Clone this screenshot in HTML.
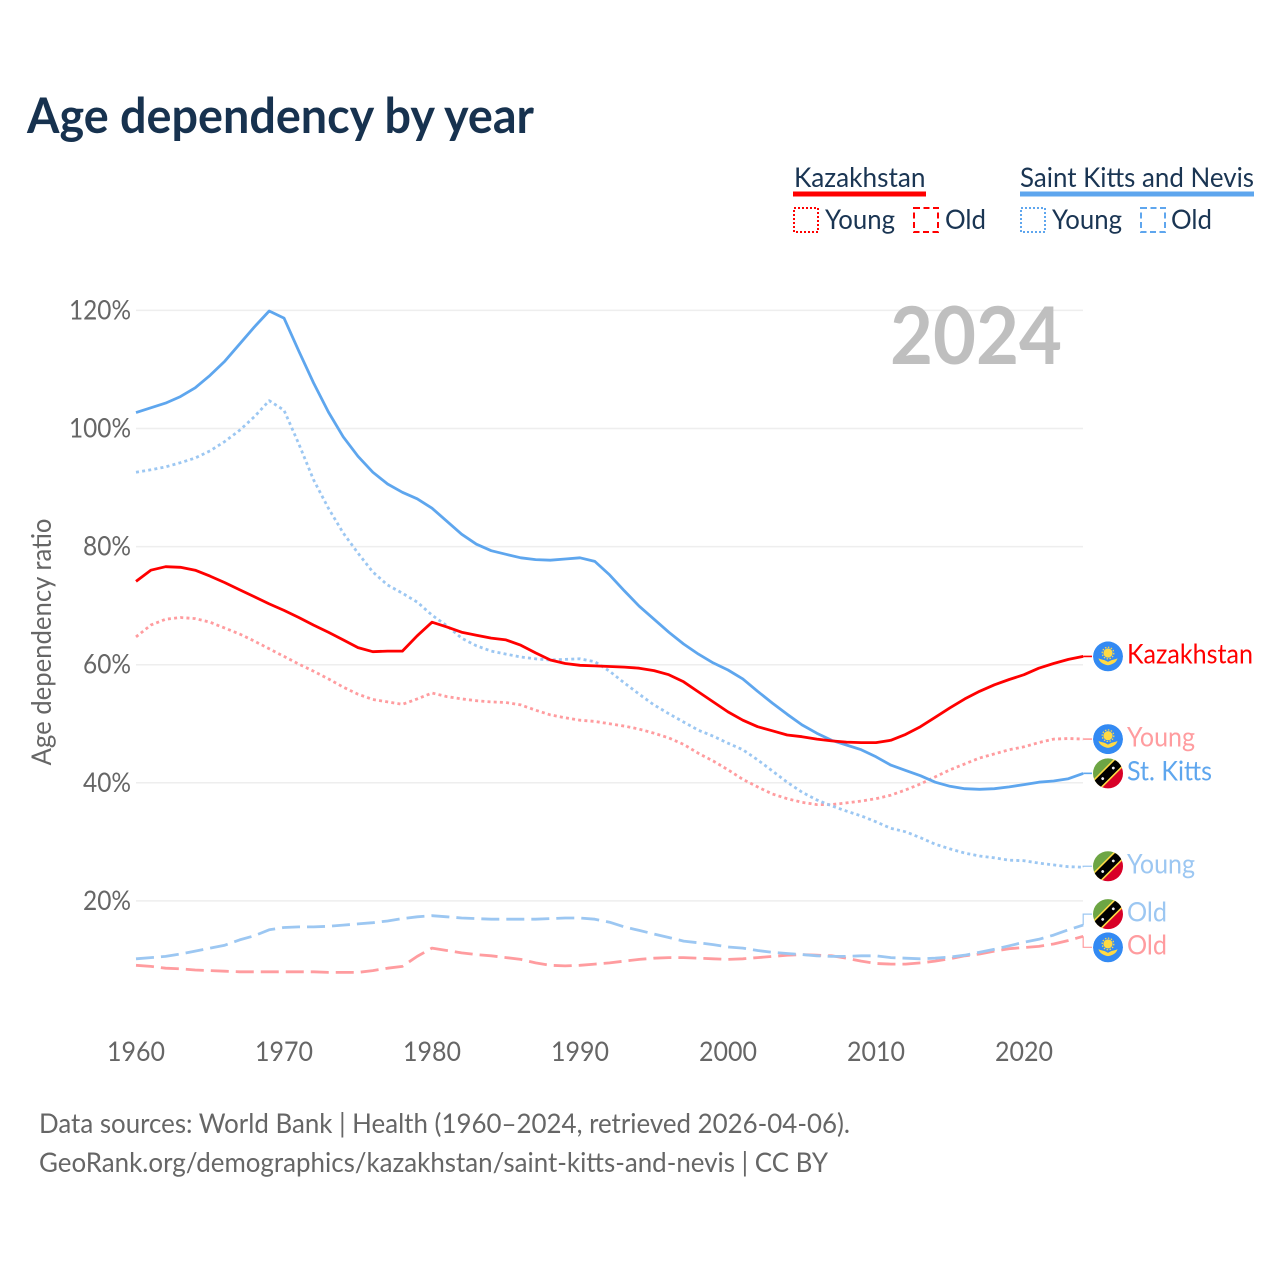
<!DOCTYPE html>
<html lang="en">
<head>
<meta charset="utf-8">
<title>Age dependency by year</title>
<style>
html,body{margin:0;padding:0;background:#fff;}
svg{display:block;}
text{font-family:"Lato","Carlito","Liberation Sans",sans-serif;}
</style>
</head>
<body>
<svg id="chart" xmlns="http://www.w3.org/2000/svg" width="1280" height="1280" viewBox="0 0 1280 1280">
  <defs>
    <clipPath id="flag-clip"><circle cx="0" cy="0" r="15"></circle></clipPath>
    <g id="flag-kz" clip-path="url(#flag-clip)">
      <circle r="15" fill="#338af3"></circle>
      <circle cx="0" cy="-3.4" r="4.6" fill="#ffda44"></circle>
      <circle cx="0" cy="-3.4" r="5.8" fill="none" stroke="#ffda44" stroke-width="1.2" stroke-dasharray="1.5 1.5"></circle>
      <path d="M-9.5 1.8 C-7 3.2,-4 3.2,-2.5 4.2 L0 5.5 L2.5 4.2 C4 3.2,7 3.2,9.5 1.8 C8.5 6.2,4 8.2,0 8.8 C-4 8.2,-8.5 6.2,-9.5 1.8Z" fill="#ffda44"></path>
    </g>
    <g id="flag-kn" clip-path="url(#flag-clip)">
      <g transform="rotate(-45)">
        <rect x="-22" y="-22" width="44" height="22" fill="#6da544"></rect>
        <rect x="-22" y="0" width="44" height="22" fill="#d80027"></rect>
        <rect x="-22" y="-6" width="44" height="12" fill="#ffda44"></rect>
        <rect x="-22" y="-4.4" width="44" height="8.8" fill="#000"></rect>
        <circle cx="-7.5" cy="0" r="1.4" fill="#f0f0f0"></circle>
        <circle cx="7.5" cy="0" r="1.4" fill="#f0f0f0"></circle>
      </g>
    </g>
  </defs>

  <text x="27" y="133" font-size="49" font-weight="700" fill="#17324f" textLength="507" lengthAdjust="spacingAndGlyphs">Age dependency by year</text>

  <g>
    <g>
      <text x="794" y="187" font-size="27" fill="#1a3553" textLength="131.5" lengthAdjust="spacingAndGlyphs">Kazakhstan</text>
      <rect x="793" y="191.5" width="133" height="5" fill="#ff0000"></rect>
      <rect x="794" y="208" width="24" height="24" fill="none" stroke="#ff0000" stroke-width="2" stroke-dasharray="2 2"></rect>
      <text x="825" y="229" font-size="27" fill="#1a3553" textLength="70" lengthAdjust="spacingAndGlyphs">Young</text>
      <rect x="914" y="208" width="24" height="24" fill="none" stroke="#ff0000" stroke-width="2" stroke-dasharray="6 3.5"></rect>
      <text x="945" y="229" font-size="27" fill="#1a3553" textLength="41" lengthAdjust="spacingAndGlyphs">Old</text>
    </g>
    <g>
      <text x="1020" y="187" font-size="27" fill="#1a3553" textLength="234" lengthAdjust="spacingAndGlyphs">Saint Kitts and Nevis</text>
      <rect x="1020" y="191.5" width="234" height="5" fill="#5ea6ee"></rect>
      <rect x="1021" y="208" width="24" height="24" fill="none" stroke="#5ea6ee" stroke-width="2" stroke-dasharray="2 2"></rect>
      <text x="1052" y="229" font-size="27" fill="#1a3553" textLength="70" lengthAdjust="spacingAndGlyphs">Young</text>
      <rect x="1141" y="208" width="24" height="24" fill="none" stroke="#5ea6ee" stroke-width="2" stroke-dasharray="6 3.5"></rect>
      <text x="1171" y="229" font-size="27" fill="#1a3553" textLength="41" lengthAdjust="spacingAndGlyphs">Old</text>
    </g>
  </g>

  <text transform="translate(51,642) rotate(-90)" text-anchor="middle" font-size="27" fill="#666" textLength="247" lengthAdjust="spacingAndGlyphs">Age dependency ratio</text>

  <g id="grid"></g>
  <g id="y-ticks"></g>
  <g id="x-ticks"></g>

  <text x="890" y="364" font-size="80" font-weight="700" fill="#bfbfbf" textLength="172" lengthAdjust="spacingAndGlyphs">2024</text>

  <g id="series"></g>
  <g id="end-labels"></g>

  <text x="39" y="1133" font-size="27" fill="#666" textLength="811" lengthAdjust="spacingAndGlyphs">Data sources: World Bank | Health (1960–2024, retrieved 2026-04-06).</text>
  <text x="39" y="1172" font-size="27" fill="#666" textLength="789" lengthAdjust="spacingAndGlyphs">GeoRank.org/demographics/kazakhstan/saint-kitts-and-nevis | CC BY</text>
</svg>

<script>
const startYear = 1960;
const xTickYears = [1960, 1970, 1980, 1990, 2000, 2010, 2020];
const yTickValues = [20, 40, 60, 80, 100, 120];

const kzTotal = [74.1,76.0,76.6,76.5,76.0,75.0,73.9,72.7,71.5,70.3,69.2,68.0,66.7,65.5,64.2,62.9,62.2,62.3,62.3,64.9,67.2,66.4,65.5,65.0,64.5,64.2,63.3,62.0,60.8,60.2,59.9,59.8,59.7,59.6,59.4,59.0,58.3,57.1,55.4,53.7,52.0,50.6,49.5,48.8,48.1,47.8,47.4,47.1,46.9,46.8,46.8,47.2,48.2,49.5,51.1,52.7,54.2,55.5,56.6,57.5,58.3,59.4,60.2,60.9,61.4];
const kzYoung = [64.7,66.7,67.7,68.0,67.8,67.2,66.2,65.2,64.0,62.7,61.4,60.1,58.9,57.6,56.2,55.0,54.1,53.7,53.3,54.2,55.2,54.6,54.2,53.9,53.7,53.6,53.2,52.3,51.5,51.0,50.6,50.4,50.0,49.6,49.1,48.4,47.6,46.5,45.0,43.7,42.2,40.6,39.3,38.1,37.3,36.7,36.3,36.3,36.6,36.9,37.3,37.9,38.8,39.8,41.0,42.2,43.2,44.2,44.9,45.6,46.1,46.8,47.4,47.5,47.4];
const kzOld = [9.1,8.9,8.6,8.5,8.3,8.2,8.1,8.0,8.0,8.0,8.0,8.0,8.0,7.9,7.9,7.9,8.2,8.6,8.9,10.6,12.0,11.6,11.2,10.9,10.7,10.4,10.1,9.5,9.1,9.0,9.1,9.3,9.5,9.8,10.1,10.3,10.4,10.4,10.3,10.2,10.1,10.2,10.4,10.6,10.8,10.9,10.8,10.7,10.3,9.8,9.4,9.3,9.3,9.5,9.8,10.2,10.7,11.0,11.5,11.9,12.1,12.3,12.7,13.3,14.0];
const knTotal = [102.7,103.5,104.3,105.4,106.9,109.0,111.4,114.3,117.2,119.9,118.7,113.1,107.7,102.8,98.6,95.3,92.6,90.6,89.2,88.1,86.5,84.3,82.1,80.4,79.3,78.7,78.1,77.8,77.7,77.9,78.1,77.5,75.2,72.5,69.9,67.7,65.5,63.5,61.8,60.3,59.1,57.6,55.5,53.5,51.6,49.8,48.4,47.2,46.4,45.6,44.4,43.0,42.1,41.2,40.1,39.4,39.0,38.9,39.0,39.3,39.7,40.1,40.3,40.7,41.6];
const knYoung = [92.6,93.0,93.5,94.2,95.0,96.2,97.8,99.7,102.0,104.7,103.1,97.4,91.3,86.5,82.3,78.9,75.7,73.5,72.1,70.6,68.4,66.6,64.5,63.2,62.3,61.8,61.3,61.0,60.8,60.9,61.0,60.5,58.9,56.9,55.0,53.2,51.7,50.3,48.9,47.9,46.7,45.6,43.9,42.0,40.1,38.4,37.1,36.1,35.2,34.4,33.4,32.3,31.7,30.7,29.6,28.8,28.1,27.6,27.3,26.9,26.8,26.4,26.1,25.8,25.7];
const knOld = [10.2,10.4,10.6,11.0,11.5,12.0,12.5,13.4,14.1,15.1,15.5,15.6,15.6,15.7,15.9,16.1,16.3,16.6,17.0,17.3,17.5,17.3,17.1,17.0,16.9,16.9,16.9,16.9,17.0,17.1,17.1,16.9,16.4,15.6,15.0,14.4,13.8,13.2,12.9,12.6,12.2,12.0,11.6,11.3,11.1,10.9,10.7,10.6,10.6,10.7,10.7,10.4,10.3,10.2,10.3,10.5,10.8,11.3,11.8,12.4,13.0,13.5,14.2,15.1,15.9];

const NS = 'http://www.w3.org/2000/svg';
function xScale(year) { return 136 + (year - 1960) * 14.8; }
function yScale(value) { return 1019 - value * 5.905; }
function make(tag, attrs, parent) {
  const el = document.createElementNS(NS, tag);
  for (const k in attrs) el.setAttribute(k, attrs[k]);
  parent.appendChild(el);
  return el;
}

const gridG = document.getElementById('grid');
const yG = document.getElementById('y-ticks');
yTickValues.forEach(function (v) {
  const line = make('line', {x1: 136, x2: 1083, y1: yScale(v), y2: yScale(v), stroke: '#eeeeee', 'stroke-width': 1.5}, gridG);
  
  
  const t = make('text', {x: 131, y: yScale(v) + 9, 'text-anchor': 'end', 'font-size': 27, fill: '#666', textLength: v >= 100 ? 62 : 48, lengthAdjust: 'spacingAndGlyphs'}, yG);
  
  
  t.textContent = v + '%';
});

const xG = document.getElementById('x-ticks');
xTickYears.forEach(function (yr) {
  const t = make('text', {x: xScale(yr), y: 1061, 'text-anchor': 'middle', 'font-size': 27, fill: '#666', textLength: 58, lengthAdjust: 'spacingAndGlyphs'}, xG);
  
  
  t.textContent = yr;
});

const RED = '#ff0000', RED_L = '#ff9c9f', BLUE = '#5ea6ee', BLUE_L = '#9cc7f2';
const DOT = '3 3.2', DASH = '18 7';
const lines = [
  {key: 'kazakhstan-old',  vals: kzOld,   color: RED_L,  dash: DASH, label: 'Old',        w: 40,  flag: 'flag-kz', dy: 11,  labelColor: RED_L},
  {key: 'st-kitts-old',    vals: knOld,   color: BLUE_L, dash: DASH, label: 'Old',        w: 40,  flag: 'flag-kn', dy: -11, labelColor: BLUE_L},
  {key: 'kazakhstan-young',vals: kzYoung, color: RED_L,  dash: DOT,  label: 'Young',      w: 68,  flag: 'flag-kz', dy: 0,   labelColor: RED_L},
  {key: 'st-kitts-young',  vals: knYoung, color: BLUE_L, dash: DOT,  label: 'Young',      w: 68,  flag: 'flag-kn', dy: -1,  labelColor: BLUE_L},
  {key: 'st-kitts-total',  vals: knTotal, color: BLUE,   dash: null, label: 'St. Kitts',  w: 85,  flag: 'flag-kn', dy: 0,   labelColor: BLUE},
  {key: 'kazakhstan-total',vals: kzTotal, color: RED,    dash: null, label: 'Kazakhstan', w: 126, flag: 'flag-kz', dy: 0,   labelColor: RED}
];

const seriesG = document.getElementById('series');
const labelG = document.getElementById('end-labels');
lines.forEach(function (s) {
  const pts = s.vals.map(function (v, i) { return xScale(startYear + i).toFixed(1) + ',' + yScale(v).toFixed(1); }).join(' ');
  const attrs = {points: pts, fill: 'none', stroke: s.color, 'stroke-width': 2.8, 'stroke-linejoin': 'round'};
  if (s.dash) attrs['stroke-dasharray'] = s.dash;
  const line = make('polyline', attrs, seriesG);
  
  

  const lastX = xScale(startYear + s.vals.length - 1);
  const lastY = yScale(s.vals[s.vals.length - 1]);
  const my = lastY + s.dy;
  const leader = make('polyline', {points: lastX + ',' + lastY + ' ' + lastX + ',' + my + ' 1092,' + my, fill: 'none', stroke: s.color, 'stroke-width': s.dy ? 1.2 : 1.6}, labelG);
  
  

  const flag = make('use', {href: '#' + s.flag, transform: 'translate(1108,' + my + ')'}, labelG);
  
  

  const t = make('text', {x: 1127, y: my + 7.3, 'font-size': 27, fill: s.labelColor, textLength: s.w, lengthAdjust: 'spacingAndGlyphs'}, labelG);
  
  
  t.textContent = s.label;
});
</script>
</body>
</html>
